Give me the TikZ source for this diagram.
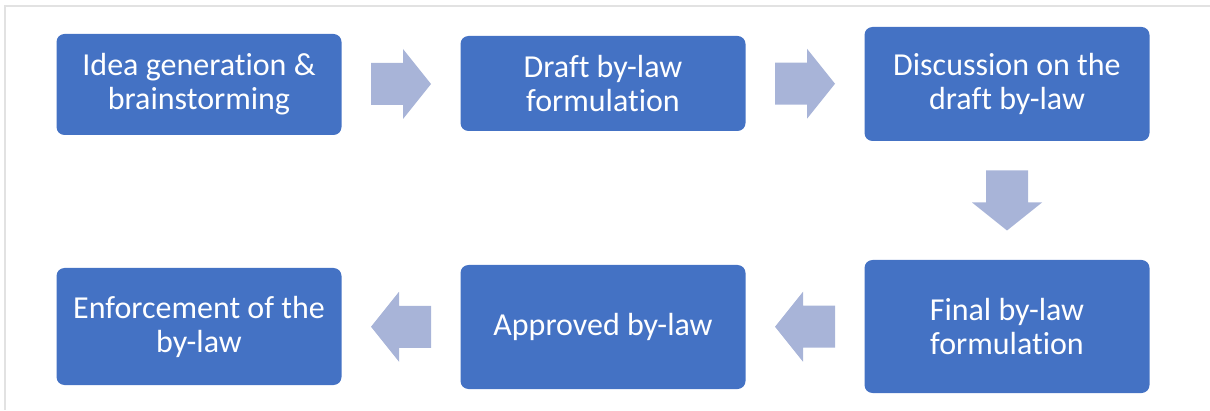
\documentclass[tikz,border=0pt]{standalone}
\usepackage{fontspec}
\setmainfont{Carlito}[Ligatures={NoCommon}]

\definecolor{stepblue}{RGB}{68,114,196}
\definecolor{arrowblue}{RGB}{168,180,216}
\definecolor{framegray}{RGB}{226,226,226}

\tikzset{
  stepbox/.style={fill=stepblue, rounded corners=8pt, minimum width=285pt,
    text=white, align=center, font=\fontsize{32}{34}\selectfont},
  flowarrow/.pic={
    \fill[arrowblue] (-30,-21) -- (2,-21) -- (2,-35) -- (30,0)
      -- (2,35) -- (2,21) -- (-30,21) -- cycle;
  }
}

\begin{document}
\begin{tikzpicture}[x=1pt,y=1pt]
  \useasboundingbox (0,0) rectangle (1210,410);

  % Frame
  \draw[framegray, line width=1.5pt] (5,0) -- (5,404) -- (1210,404);

  % Top row
  \node[stepbox, minimum height=101pt] (idea) at (199,325.5) {Idea generation \&\\brainstorming};
  \node[stepbox, minimum height=95pt] (draft) at (603,326.5) {Draft by-law\\formulation};
  \node[stepbox, minimum height=114pt] (discuss) at (1007,326) {Discussion on the\\draft by-law};

  % Bottom row
  \node[stepbox, minimum height=133pt] (final) at (1007,83.5) {Final by-law\\formulation};
  \node[stepbox, minimum height=124pt] (approved) at (603,83) {Approved by-law};
  \node[stepbox, minimum height=117pt] (enforce) at (199,83.5) {Enforcement of the\\by-law};

  % Arrows
  \path (idea) -- (draft) coordinate[midway] (a1);
  \path (draft) -- (discuss) coordinate[midway] (a2);
  \path (discuss) -- (final) coordinate[midway] (a3);
  \path (final) -- (approved) coordinate[midway] (a4);
  \path (approved) -- (enforce) coordinate[midway] (a5);

  \pic at (a1) {flowarrow};
  \pic at (a2) {flowarrow};
  \pic[rotate=-90] at (a3) {flowarrow};
  \pic[rotate=180] at (a4) {flowarrow};
  \pic[rotate=180] at (a5) {flowarrow};
\end{tikzpicture}
\end{document}
